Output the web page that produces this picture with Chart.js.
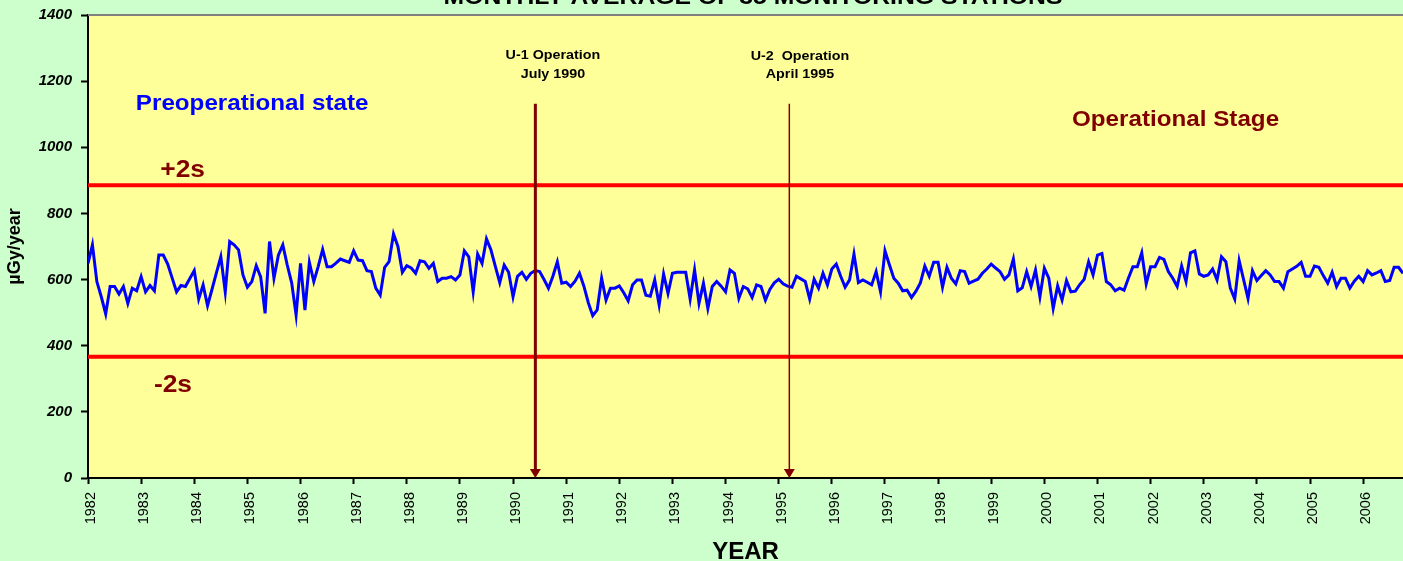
<!DOCTYPE html>
<html lang="en">
<head>
<meta charset="UTF-8">
<title>Monthly average of 35 monitoring stations</title>
<script src="https://cdn.jsdelivr.net/npm/chart.js@4.4.0/dist/chart.umd.min.js"></script>
<style>
    html, body { margin: 0; padding: 0; background: #ccffcc; overflow: hidden; }
    #wrap { width: 1403px; height: 561px; }
</style>
</head>
<body>

<div id="wrap"><canvas id="doseChart" width="1403" height="561"></canvas></div>

<script>
// Data - monthly averages, starting January 1982
const startYear = 1982;
const endYear = 2006.75;
const yearTicks = [1982, 1983, 1984, 1985, 1986, 1987, 1988, 1989, 1990, 1991, 1992, 1993,
    1994, 1995, 1996, 1997, 1998, 1999, 2000, 2001, 2002, 2003, 2004, 2005, 2006];
const doseTicks = [0, 200, 400, 600, 800, 1000, 1200, 1400];

const monthlyDose = [
    649, 705, 594, 548, 496, 579, 579, 556, 579, 528, 574, 566,   // 1982
    609, 563, 582, 566, 674, 674, 647, 605, 563, 582, 579, 603,   // 1983
    627, 541, 584, 521, 570, 620, 669, 563, 715, 705, 690, 614,   // 1984
    577, 594, 642, 608, 498, 715, 604, 674, 705, 644, 590, 493,   // 1985
    649, 508, 652, 594, 640, 691, 639, 639, 650, 662, 657, 652,   // 1986
    687, 659, 657, 627, 624, 574, 553, 637, 654, 738, 700, 622,   // 1987
    642, 635, 619, 657, 654, 634, 649, 594, 604, 604, 609, 599,   // 1988
    614, 687, 669, 563, 677, 649, 723, 690, 640, 591, 644, 622,   // 1989
    548, 610, 622, 601, 619, 627, 624, 600, 574, 610, 654, 589,   // 1990
    592, 579, 595, 619, 580, 530, 491, 508, 604, 538, 574, 574,   // 1991
    581, 560, 536, 584, 599, 599, 553, 550, 599, 523, 617, 558,   // 1992
    619, 622, 622, 622, 541, 629, 528, 589, 513, 579, 594, 580,   // 1993
    563, 629, 619, 543, 579, 572, 546, 584, 579, 538, 570, 590,   // 1994
    601, 587, 580, 577, 610, 602, 594, 541, 601, 574, 619, 584,   // 1995
    632, 647, 610, 577, 599, 677, 591, 599, 592, 584, 624, 563,   // 1996
    687, 645, 604, 589, 566, 568, 546, 565, 590, 641, 610, 652,   // 1997
    652, 577, 637, 604, 587, 627, 624, 589, 595, 601, 619, 632,   // 1998
    647, 635, 624, 601, 614, 662, 566, 575, 624, 579, 629, 548,   // 1999
    634, 604, 513, 581, 538, 597, 563, 565, 585, 601, 654, 614,   // 2000
    674, 679, 594, 584, 566, 574, 568, 605, 639, 639, 681, 587,   // 2001
    639, 639, 667, 661, 624, 604, 579, 641, 594, 681, 687, 617,   // 2002
    610, 614, 632, 599, 669, 654, 574, 541, 657, 600, 543, 627,   // 2003
    597, 612, 627, 614, 594, 594, 574, 624, 632, 640, 652, 610,   // 2004
    610, 641, 637, 612, 589, 622, 579, 604, 604, 574, 595, 610,   // 2005
    594, 627, 614, 620, 627, 594, 597, 637, 637, 619             // 2006
];

const upperLimit = 885;   // +2s
const lowerLimit = 367;   // -2s

// operation start markers (year, top of arrow in uGy/year)
const u1Start = 1990.42;
const u2Start = 1995.2;
const arrowTop = 1132;

const FONT = '"Liberation Sans", Arial, sans-serif';
const DARK_RED = '#800000';

// text placed in data units (x = year, y = uGy/year at the baseline)
const notes = [
    { text: 'Preoperational state', x: 1982.9, y: 1113, size: 22, color: '#0000ff' },
    { text: 'Operational Stage', x: 2000.52, y: 1065, size: 22, color: DARK_RED },
    { text: '+2s', x: 1983.36, y: 909, size: 24, color: DARK_RED },
    { text: '-2s', x: 1983.24, y: 259, size: 24, color: DARK_RED },
    { text: 'U-1 Operation', x: 1990.75, y: 1268, size: 13, color: '#000', align: 'center' },
    { text: 'July 1990', x: 1990.75, y: 1210, size: 13, color: '#000', align: 'center' },
    { text: 'U-2  Operation', x: 1995.4, y: 1265, size: 13, color: '#000', align: 'center' },
    { text: 'April 1995', x: 1995.4, y: 1210, size: 13, color: '#000', align: 'center' }
];

function drawText(ctx, text, x, y, size, color, align) {
    ctx.save();
    ctx.font = 'bold ' + size + 'px ' + FONT;
    ctx.fillStyle = color;
    ctx.textAlign = align || 'left';
    ctx.textBaseline = 'alphabetic';
    ctx.translate(x, y);
    ctx.scale(1.1, 1);   // the original lettering is a little wider than Arial
    ctx.fillText(text, 0, 0);
    ctx.restore();
}

function drawArrow(ctx, x, yTop, yBottom, width) {
    ctx.save();
    ctx.strokeStyle = DARK_RED;
    ctx.fillStyle = DARK_RED;
    ctx.lineWidth = width;
    ctx.beginPath();
    ctx.moveTo(x, yTop);
    ctx.lineTo(x, yBottom - 8);
    ctx.stroke();
    ctx.beginPath();
    ctx.moveTo(x - 5.5, yBottom - 9);
    ctx.lineTo(x + 5.5, yBottom - 9);
    ctx.lineTo(x, yBottom);
    ctx.closePath();
    ctx.fill();
    ctx.restore();
}

const backgroundPlugin = {
    id: 'background',
    beforeDraw(chart) {
        const { ctx, chartArea: a } = chart;
        ctx.save();
        ctx.fillStyle = '#ccffcc';
        ctx.fillRect(0, 0, chart.width, chart.height);
        ctx.fillStyle = '#ffff99';
        ctx.fillRect(a.left, a.top, a.right - a.left, a.bottom - a.top);
        ctx.restore();
    }
};

const notesPlugin = {
    id: 'notes',
    afterDatasetsDraw(chart) {
        const { ctx, chartArea: a, scales: { x, y } } = chart;

        // top edge of the plot area
        ctx.save();
        ctx.strokeStyle = '#808080';
        ctx.lineWidth = 2;
        ctx.beginPath();
        ctx.moveTo(a.left, a.top);
        ctx.lineTo(a.right, a.top);
        ctx.stroke();
        ctx.restore();

        drawArrow(ctx, x.getPixelForValue(u1Start), y.getPixelForValue(arrowTop), y.getPixelForValue(0), 3);
        drawArrow(ctx, x.getPixelForValue(u2Start), y.getPixelForValue(arrowTop), y.getPixelForValue(0), 1.5);

        notes.forEach(n => {
            drawText(ctx, n.text, x.getPixelForValue(n.x), y.getPixelForValue(n.y), n.size, n.color, n.align);
        });

        // chart title, mostly cut off at the top of the picture
        drawText(ctx, 'MONTHLY AVERAGE OF 35 MONITORING STATIONS', 753, 4, 22.5, '#000', 'center');
    }
};

new Chart(document.getElementById('doseChart'), {
    type: 'line',
    data: {
        datasets: [
            {
                label: 'Monthly average',
                data: monthlyDose.map((v, i) => ({ x: startYear + i / 12, y: v })),
                borderColor: '#0000ff',
                borderWidth: 3,
                pointRadius: 0,
                tension: 0
            },
            {
                label: '+2s',
                data: [{ x: startYear, y: upperLimit }, { x: endYear, y: upperLimit }],
                borderColor: '#ff0000',
                borderWidth: 4,
                pointRadius: 0
            },
            {
                label: '-2s',
                data: [{ x: startYear, y: lowerLimit }, { x: endYear, y: lowerLimit }],
                borderColor: '#ff0000',
                borderWidth: 4,
                pointRadius: 0
            }
        ]
    },
    options: {
        responsive: false,
        animation: false,
        layout: { padding: { top: 15, right: 0, bottom: 0, left: 0 } },
        plugins: {
            legend: { display: false },
            tooltip: { enabled: false }
        },
        scales: {
            x: {
                type: 'linear',
                min: startYear,
                max: endYear,
                afterBuildTicks: s => { s.ticks = yearTicks.map(v => ({ value: v })); },
                afterFit: s => { s.height = 83; s.paddingLeft = 0; s.paddingRight = 0; },
                border: { display: true, color: '#000', width: 2 },
                grid: { display: true, drawOnChartArea: false, drawTicks: true, tickLength: 6, tickColor: '#000', tickWidth: 2 },
                ticks: {
                    autoSkip: false,
                    minRotation: 90,
                    maxRotation: 90,
                    padding: 8,
                    labelOffset: 3,
                    color: '#000',
                    font: { family: FONT, size: 14.5 },
                    callback: v => String(v)
                },
                title: {
                    display: true,
                    text: 'YEAR',
                    color: '#000',
                    font: { family: FONT, size: 24, weight: 'bold' },
                    padding: { top: 0, bottom: -6 }
                }
            },
            y: {
                min: 0,
                max: 1400,
                afterBuildTicks: s => { s.ticks = doseTicks.map(v => ({ value: v })); },
                afterFit: s => { s.width = 88; s.paddingTop = 0; s.paddingBottom = 0; },
                border: { display: true, color: '#000', width: 2 },
                grid: { display: true, drawOnChartArea: false, drawTicks: true, tickLength: 7, tickColor: '#000', tickWidth: 2 },
                ticks: {
                    padding: 9,
                    color: '#000',
                    font: { family: FONT, size: 15, style: 'italic', weight: 'bold' },
                    callback: v => String(v)
                },
                title: {
                    display: true,
                    text: 'µGy/year',
                    color: '#000',
                    font: { family: FONT, size: 18, weight: 'bold' },
                    padding: { top: 4, bottom: 0 }
                }
            }
        }
    },
    plugins: [backgroundPlugin, notesPlugin]
});
</script>

</body>
</html>
